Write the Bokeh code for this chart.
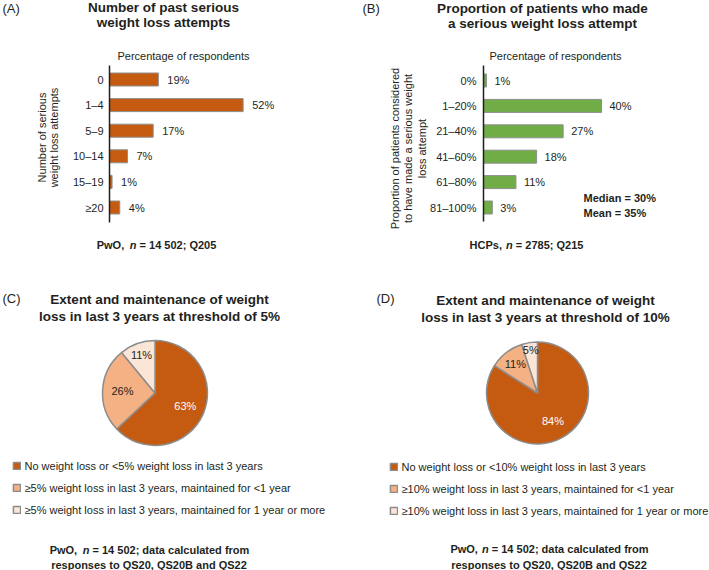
import math
from bokeh.plotting import figure
from bokeh.models import Range1d, Label, Legend, LegendItem, ColumnDataSource
from bokeh.layouts import column, row
from bokeh.embed import file_html
from bokeh.resources import INLINE
from bokeh.core.properties import value

# ---------------- data ----------------
attempt_categories = ["0", "1–4", "5–9", "10–14", "15–19", "≥20"]
attempt_pct = [19, 52, 17, 7, 1, 4]

proportion_categories = ["0%", "1–20%", "21–40%", "41–60%", "61–80%", "81–100%"]
proportion_pct = [1, 40, 27, 18, 11, 3]
proportion_median = 30
proportion_mean = 35

loss5_labels = ["No weight loss or <5% weight loss in last 3 years",
                "≥5% weight loss in last 3 years, maintained for <1 year",
                "≥5% weight loss in last 3 years, maintained for 1 year or more"]
loss5_pct = [63, 26, 11]

loss10_labels = ["No weight loss or <10% weight loss in last 3 years",
                 "≥10% weight loss in last 3 years, maintained for <1 year",
                 "≥10% weight loss in last 3 years, maintained for 1 year or more"]
loss10_pct = [84, 11, 5]

# ---------------- style ----------------
FONT = "Liberation Sans"
INK = "#231f20"
ORANGE = "#c55a11"
GREEN = "#70ad47"
BAR_EDGE = "#8f8f8f"
PIE_COLORS = ["#c55a11", "#f4b183", "#fbe5d6"]
PIE_EDGE = "#8c8c8c"
TITLE_SIZE = "13.5px"
TEXT_SIZE = "11px"

BOLD_W = {' ': 278, ',': 278, ';': 333, '=': 584, '%': 889, 'P': 667, 'w': 778,
          'O': 778, 'n': 611, 'd': 611, 'a': 556, 't': 333, 'c': 556, 'l': 278,
          'u': 611, 'e': 556, 'f': 333, 'r': 389, 'o': 611, 'm': 889, 's': 556,
          'p': 611, 'Q': 778, 'S': 667, 'B': 722, 'H': 722, 'C': 722}


def bold_width(s, size):
    return sum(BOLD_W.get(ch, 556) for ch in s) * size / 1000.0


def put(p, x, y, text, size=TEXT_SIZE, style="normal", align="left",
        baseline="middle", color=INK, angle=0.0):
    # x, y: pixels from the figure's top-left corner (frame == whole figure)
    H = p.height
    p.add_layout(Label(x=x, y=H - y, x_units="screen", y_units="screen",
                       text=text, text_font=FONT, text_font_size=size,
                       text_font_style=style, text_align=align,
                       text_baseline=baseline, text_color=color, angle=angle))


def rich(p, cx, y, segments, size=11, gap=1.0):
    space = bold_width(" ", size)
    widths = [bold_width(t, size) for t, _ in segments]
    total = sum(widths) + space * (len(segments) - 1) + gap
    x = cx - total / 2
    for k, ((t, st), w) in enumerate(zip(segments, widths)):
        put(p, x, y, t, size=f"{size}px", style=st, align="left")
        x += w + space + (gap if k == 0 else 0)


def base_fig(W, H, xr, yr):
    p = figure(width=W, height=H, x_range=xr, y_range=yr, x_axis_type=None,
               y_axis_type=None, toolbar_location=None, output_backend="svg",
               min_border=0)
    p.outline_line_color = None
    p.grid.visible = False
    return p


def bar_panel(cats, vals, color, W, H, axis_x, px_per_pct, c0, step,
              axis_top, axis_bottom, standoff, val_off):
    # y: row index, first category at top (row i drawn at c0 + i*step px)
    xr = Range1d(-axis_x / px_per_pct, (W - axis_x) / px_per_pct)
    yr = Range1d((H - c0) / step, -c0 / step)
    p = base_fig(W, H, xr, yr)
    idx = list(range(len(cats)))
    src = ColumnDataSource(dict(i=idx, cat=cats, val=vals,
                                lab=[f"{v}%" for v in vals]))
    p.hbar(y="i", left=0, right="val", height=13.0 / step, source=src,
           fill_color=color, line_color=BAR_EDGE, line_width=1)
    p.text(x="val", y="i", text="lab", source=src, x_offset=val_off,
           text_baseline="middle", text_align="left", text_font=value(FONT),
           text_font_size=TEXT_SIZE, text_color=INK)
    # category axis: line + tick labels
    p.segment(x0=[0], x1=[0], y0=[(axis_top - c0) / step],
              y1=[(axis_bottom - c0) / step], line_color=INK, line_width=1.5)
    p.text(x=0, y="i", text="cat", source=src, x_offset=-standoff,
           text_baseline="middle", text_align="right", text_font=value(FONT),
           text_font_size=TEXT_SIZE, text_color=INK)
    return p


def pie_panel(labels, vals, W, H, cx, cy, R, lab_r, sw_cx, first_row):
    p = base_fig(W, H, Range1d(-cx, W - cx), Range1d(cy - H, cy))
    total = float(sum(vals))
    starts, ends, acc = [], [], 0.0
    for v in vals:
        starts.append(math.pi / 2 - 2 * math.pi * acc / total)
        acc += v
        ends.append(math.pi / 2 - 2 * math.pi * acc / total)
    mids = [(s + e) / 2 for s, e in zip(starts, ends)]
    src = ColumnDataSource(dict(start=starts, end=ends,
                                color=PIE_COLORS[:len(vals)]))
    r = p.wedge(x=0, y=0, radius=R, start_angle="start", end_angle="end",
                direction="clock", fill_color="color", line_color=PIE_EDGE,
                line_width=1.5, source=src)
    lsrc = ColumnDataSource(dict(
        x=[f * R * math.cos(m) for f, m in zip(lab_r, mids)],
        y=[f * R * math.sin(m) for f, m in zip(lab_r, mids)],
        t=[f"{v}%" for v in vals],
        c=["white"] + [INK] * (len(vals) - 1)))
    p.text(x="x", y="y", text="t", text_color="c", source=lsrc,
           text_align="center", text_baseline="middle", text_font=value(FONT),
           text_font_size=TEXT_SIZE)
    ih = 13
    gw = 9
    spacing = 10
    n = len(vals)
    leg_h = n * ih + (n - 1) * spacing
    top = first_row - ih / 2
    items = [LegendItem(label=labels[i], renderers=[r], index=i) for i in range(n)]
    leg = Legend(items=items, location=(sw_cx - gw / 2, H - (top + leg_h)),
                 orientation="vertical", padding=0, margin=0, spacing=spacing,
                 glyph_width=gw, glyph_height=gw, label_height=gw,
                 label_standoff=4, label_text_font=FONT,
                 label_text_font_size=TEXT_SIZE, label_text_color=INK,
                 border_line_color=None, background_fill_alpha=0)
    p.add_layout(leg)
    return p


# ---------------- panel A ----------------
pa = bar_panel(attempt_categories, attempt_pct, ORANGE, 354, 290,
               109, 2.57, 79, 25.6, 65, 222, 6, 9)
put(pa, 2, 8, "(A)", size="13px")
put(pa, 163, 6.5, "Number of past serious", size=TITLE_SIZE, style="bold", align="center")
put(pa, 163, 21.5, "weight loss attempts", size=TITLE_SIZE, style="bold", align="center")
put(pa, 183, 55.5, "Percentage of respondents", align="center")
put(pa, 41, 137, "Number of serious", align="center", angle=math.pi / 2)
put(pa, 53, 137, "weight loss attempts", align="center", angle=math.pi / 2)
rich(pa, 156, 244, [("PwO,", "bold"), ("n", "bold italic"), ("= 14 502; Q205", "bold")], gap=2.5)

# ---------------- panel B ----------------
pb = bar_panel(proportion_categories, proportion_pct, GREEN, 355, 290,
               129, 2.95, 80, 25.4, 65, 221, 7, 8)
put(pb, 8, 8, "(B)", size="13px")
put(pb, 188, 7.5, "Proportion of patients who made", size=TITLE_SIZE, style="bold", align="center")
put(pb, 188, 22.5, "a serious weight loss attempt", size=TITLE_SIZE, style="bold", align="center")
put(pb, 201, 55.5, "Percentage of respondents", align="center")
put(pb, 40, 148, "Proportion of patients considered", align="center", angle=math.pi / 2)
put(pb, 53, 148, "to have made a serious weight", align="center", angle=math.pi / 2)
put(pb, 67, 148, "loss attempt", align="center", angle=math.pi / 2)
put(pb, 229, 197, f"Median = {proportion_median}%", style="bold")
put(pb, 229, 212, f"Mean = {proportion_mean}%", style="bold")
rich(pb, 172, 244, [("HCPs,", "bold"), ("n", "bold italic"), ("= 2785; Q215", "bold")])

# ---------------- panel C ----------------
pc = pie_panel(loss5_labels, loss5_pct, 354, 280, 154.5, 102.5, 52.5,
               [0.63, 0.62, 0.76], 16, 173)
put(pc, 2, 8, "(C)", size="13px")
put(pc, 159, 8.5, "Extent and maintenance of weight", size=TITLE_SIZE, style="bold", align="center")
put(pc, 159, 25.5, "loss in last 3 years at threshold of 5%", size=TITLE_SIZE, style="bold", align="center")
rich(pc, 149, 259.5, [("PwO,", "bold"), ("n", "bold italic"), ("= 14 502; data calculated from", "bold")], gap=2.5)
rich(pc, 149, 274.5, [("responses to QS20, QS20B and QS22", "bold")])

# ---------------- panel D ----------------
pd_ = pie_panel(loss10_labels, loss10_pct, 355, 280, 183, 102.5, 51,
                [0.63, 0.71, 0.85], 39, 174)
put(pd_, 22, 8, "(D)", size="13px")
put(pd_, 191, 10, "Extent and maintenance of weight", size=TITLE_SIZE, style="bold", align="center")
put(pd_, 191, 27, "loss in last 3 years at threshold of 10%", size=TITLE_SIZE, style="bold", align="center")
rich(pd_, 195, 258.5, [("PwO,", "bold"), ("n", "bold italic"), ("= 14 502; data calculated from", "bold")])
rich(pd_, 195, 274, [("responses to QS20, QS20B and QS22", "bold")])

layout = column(row(pa, pb), row(pc, pd_))
open("out.html", "w").write(file_html(layout, INLINE))
